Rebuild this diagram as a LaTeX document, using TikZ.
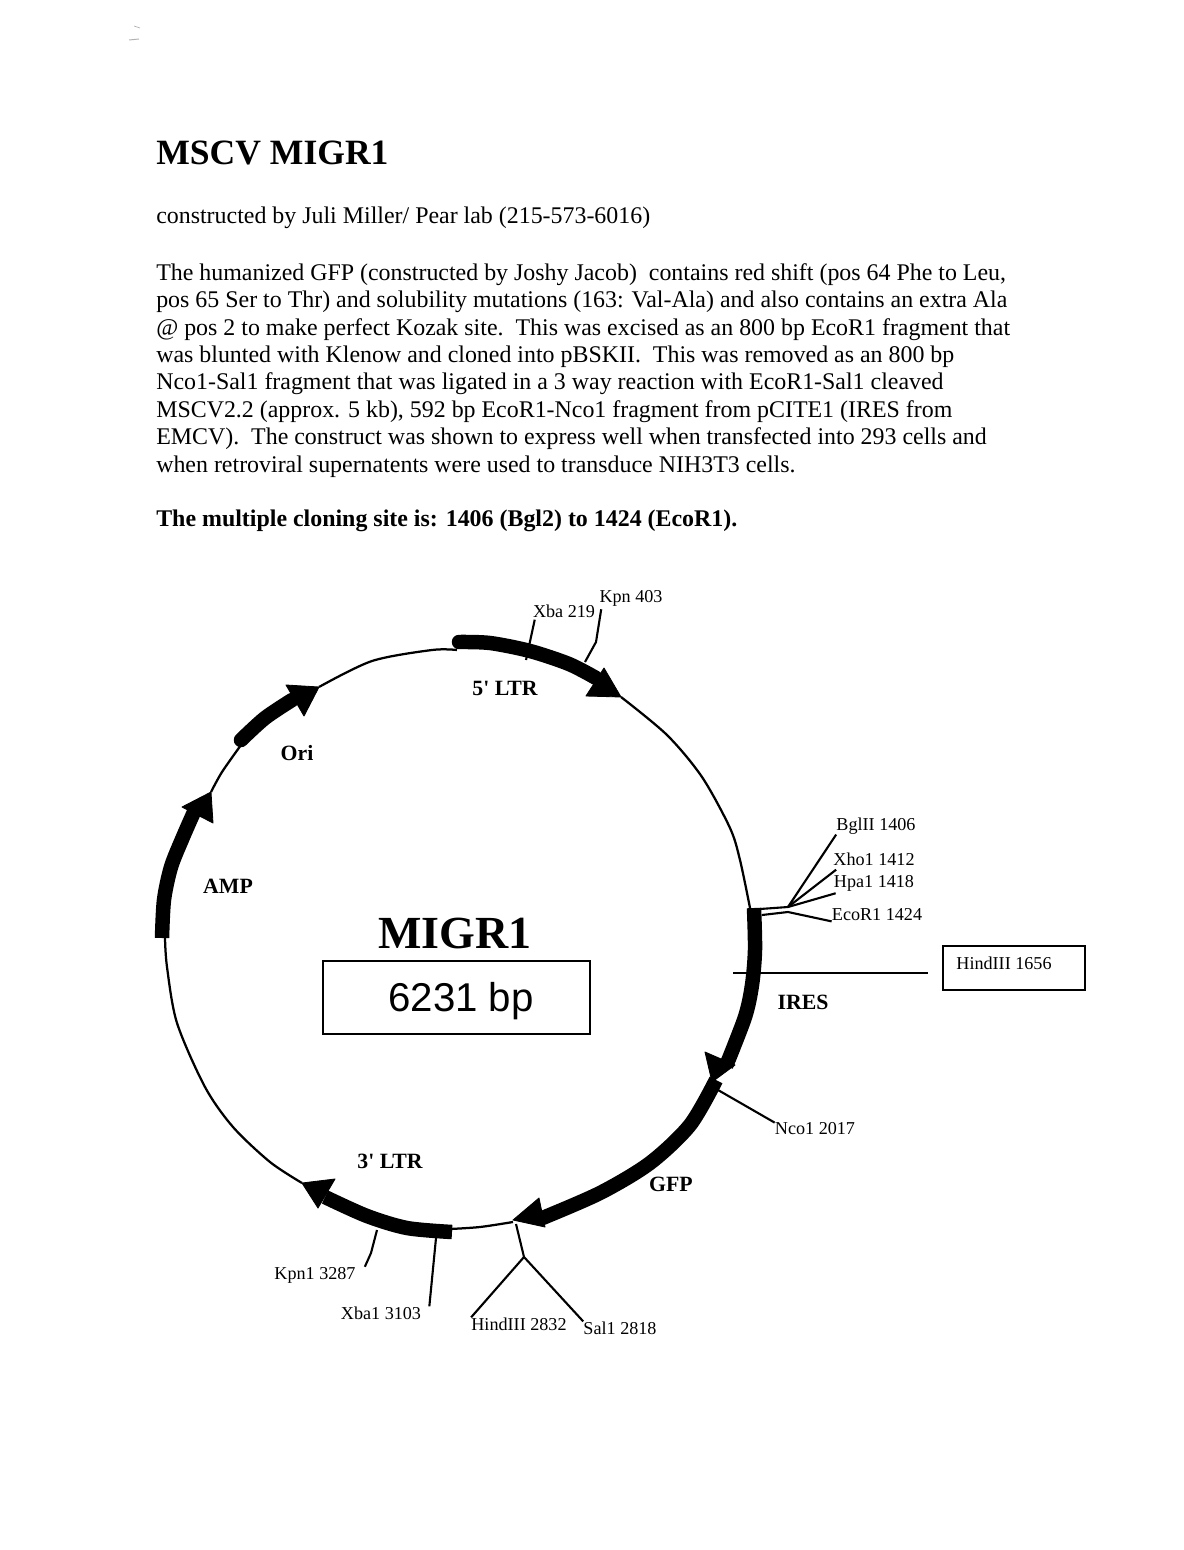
\documentclass[tikz,border=0pt]{standalone}
\usepackage{fontspec}
\setmainfont{Liberation Serif}[Ligatures=TeXOff]
\setsansfont{Liberation Sans}
\tikzset{
    ring/.style = {line width = 1.6pt, line join = round},
    band/.style = {line width = 10.3pt, line join = round},
    head/.style = {fill = black, draw = black, line width = 0.6pt, line join = round},
    leader/.style = {line width = 1.5pt, line join = round},
    site/.style = {inner sep = 0pt, font = \fontsize{12.9}{15}\selectfont},
    feature/.style = {inner sep = 0pt, font = \fontsize{15.5}{18}\selectfont\bfseries},
}
\begin{document}
\begin{tikzpicture}[x = 0.025cm, y = -0.025cm]
    \def\bodysize{\fontsize{17}{19.53}\selectfont}
    \useasboundingbox (0,0) rectangle (1183,1550);

    \node(title) [anchor = west, inner sep = 0pt, font = \fontsize{25.3}{30}\selectfont\bfseries] at (156,153) {MSCV MIGR1};
    \node(credit) [anchor = west, inner sep = 0pt, font = \bodysize] at (156,218) {constructed by Juli Miller/ Pear lab (215-573-6016)};
    \node(para) [anchor = north west, inner sep = 0pt, align = left, font = \bodysize] at (156,263) {The humanized GFP (constructed by Joshy Jacob)\ \ contains red shift (pos 64 Phe to Leu,\\
    pos 65 Ser to Thr) and solubility mutations (163: Val-Ala) and also contains an extra Ala\\
    @ pos 2 to make perfect Kozak site.\ \ This was excised as an 800 bp EcoR1 fragment that\\
    was blunted with Klenow and cloned into pBSKII.\ \ This was removed as an 800 bp\\
    Nco1-Sal1 fragment that was ligated in a 3 way reaction with EcoR1-Sal1 cleaved\\
    MSCV2.2 (approx. 5 kb), 592 bp EcoR1-Nco1 fragment from pCITE1 (IRES from\\
    EMCV).\ \ The construct was shown to express well when transfected into 293 cells and\\
    when retroviral supernatents were used to transduce NIH3T3 cells.};
    \node(mcs) [anchor = west, inner sep = 0pt, font = \fontsize{17}{19.53}\selectfont\bfseries] at (156,521) {The multiple cloning site is: 1406 (Bgl2) to 1424 (EcoR1).};

    \draw[ring] plot[smooth] coordinates {(621,697) (667,735) (702,777) (730,828) (740,860) (750,908)};
    \draw[ring] plot[smooth] coordinates {(513,1222) (480,1227) (450,1229)};
    \draw[ring] plot[smooth] coordinates {(302,1183) (270,1162) (233,1127) (205,1087) (177,1023) (167,967) (165,938)};
    \draw[ring] plot[smooth] coordinates {(211,792) (222,772) (241,745)};
    \draw[ring] plot[smooth] coordinates {(319,687) (372,661) (432,650) (457,650)};

    \draw[band, line cap = round] plot[smooth] coordinates {(459,642) (490,643) (530,651) (569,664) (596,678)};
    \fill[head] (604,668) -- (621,697) -- (586,696) -- cycle;

    \draw[band] plot[smooth] coordinates {(754,908) (755,950) (752,985) (745,1017) (726,1066)};
    \fill[head] (705,1052) -- (735,1065) -- (712,1082) -- cycle;

    \draw[band] plot[smooth] coordinates {(716,1080) (690,1125) (650,1163) (600,1193) (540,1219)};
    \fill[head] (539,1198) -- (545,1227) -- (513,1220) -- cycle;

    \draw[band] plot[smooth] coordinates {(452,1232) (407,1228) (367,1216) (325,1197)};
    \fill[head] (335,1179) -- (318,1208) -- (302,1183) -- cycle;

    \draw[band] plot[smooth] coordinates {(162,938) (164,900) (171,867) (183,837) (194,812)};
    \fill[head] (182,807) -- (213,823) -- (211,792) -- cycle;

    \draw[band, line cap = round] plot[smooth] coordinates {(241,740) (265,718) (292,700)};
    \fill[head] (286,685) -- (304,716) -- (319,687) -- cycle;

    \node(ltrfive) [feature] at (505,688) {5' LTR};
    \node(ori) [feature] at (297,753) {Ori};
    \node(amp) [feature] at (228,886) {AMP};
    \node(ires) [feature] at (803,1002) {IRES};
    \node(gfp) [feature] at (671,1184) {GFP};
    \node(ltrthree) [feature] at (390,1161) {3' LTR};

    \node(xba) [site] at (564,611) {Xba 219};
    \node(kpn) [site] at (631,598) {Kpn 403};
    \node(bgl) [site] at (876,826) {BglII 1406};
    \node(xho) [site] at (874,859) {Xho1 1412};
    \node(hpa) [site] at (874,883) {Hpa1 1418};
    \node(eco) [site] at (877,915) {EcoR1 1424};
    \node(hindbox) [draw, line width = 1.2pt, minimum width = 3.55cm, minimum height = 1.1cm] at (1014,968) {};
    \node(hindtop) [site] at (1004,963) {HindIII 1656};
    \node(nco) [site] at (815,1129) {Nco1 2017};
    \node(hindlow) [site] at (519,1324) {HindIII 2832};
    \node(sal) [site] at (620,1328) {Sal1 2818};
    \node(xbalow) [site] at (381,1313) {Xba1 3103};
    \node(kpnlow) [site] at (315,1275) {Kpn1 3287};

    \coordinate(xbafoot) at (526,660);
    \coordinate(kpnbend) at (596,642);
    \coordinate(kpnfoot) at (585,662);
    \coordinate(mcshub) at (788,907);
    \coordinate(mcsroot) at (760,909);
    \coordinate(ecobend) at (788,912);
    \coordinate(ecoroot) at (762,915);
    \coordinate(hindfoot) at (733,973);
    \coordinate(ncofoot) at (718,1090);
    \coordinate(fork) at (524,1257);
    \coordinate(forkfoot) at (516,1224);
    \coordinate(xbatop) at (436,1238);
    \coordinate(kpntop) at (377,1230);
    \coordinate(kpnknee) at (371,1253);

    \draw[leader] (xba.south west) ++(2,2) -- (xbafoot);
    \draw[leader] (kpn.south west) ++(2,3) -- (kpnbend) -- (kpnfoot);
    \draw[leader] (bgl.south west) -- (mcshub);
    \draw[leader] (xho.south west) ++(3,4) -- (mcshub);
    \draw[leader] (hpa.south west) ++(2,2) -- (mcshub);
    \draw[leader] (mcsroot) -- (mcshub);
    \draw[leader] (ecoroot) -- (ecobend) -- (eco.south west);
    \draw[leader] (hindfoot) -- ([xshift = -14 * 0.025cm, yshift = 5 * -0.025cm]hindbox.west);
    \draw[leader] (ncofoot) -- (nco.north west);
    \draw[leader] (forkfoot) -- (fork);
    \draw[leader] (fork) -- (hindlow.north west);
    \draw[leader] (fork) -- (sal.north west);
    \draw[leader] (xbatop) -- ([xshift = 8 * 0.025cm]xbalow.north east);
    \draw[leader] (kpntop) -- (kpnknee) -- ([xshift = 9 * 0.025cm]kpnlow.north east);

    \node(name) [inner sep = 0pt, font = \fontsize{32.7}{38}\selectfont\bfseries] at (455,933) {MIGR1};
    \node(sizebox) [draw, line width = 1.2pt, minimum width = 6.675cm, minimum height = 1.825cm] at (456.5,997.5) {};
    \node(size) [inner sep = 0pt, font = \fontsize{28.6}{34}\selectfont\sffamily] at (461,1001) {6231 bp};

    \draw[gray!60, line width = 0.5pt] (134,26) -- (140,28);
    \draw[gray!60, line width = 0.7pt] (129,40) -- (139,39);
\end{tikzpicture}
\end{document}
